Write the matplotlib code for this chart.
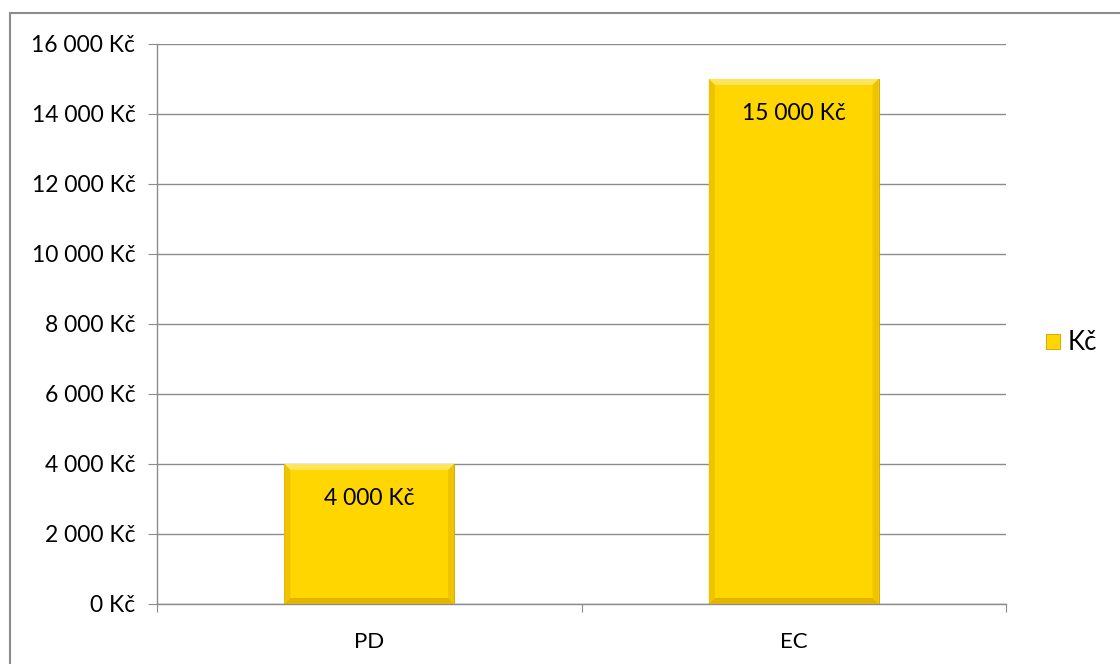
"""Bar chart of costs in Kč for PD and EC."""

import matplotlib
matplotlib.use("Agg")
import matplotlib.pyplot as plt
from matplotlib.patches import Polygon, Rectangle
from matplotlib.ticker import FuncFormatter, MultipleLocator


categories = ["PD", "EC"]
values = [4000, 15000]
series_name = "Kč"

FACE = "#FFD600"
LIGHT = "#FFE55E"
SIDE = "#EFC300"
BOTTOM = "#E2B400"
GRID = "#8C8C8C"

plt.rcParams["font.family"] = ["Lato", "DejaVu Sans"]


def money(value, _pos=None):
    text = f"{int(value):,}".replace(",", " ")
    return f"{text} Kč"


def add_bevel(ax, bar, size=6):
    """Paint a simple bevel frame on a bar, in pixel space."""
    x0, y0, x1, y1 = bar.get_window_extent().extents
    s = size
    pieces = [
        ([(x0, y1), (x1, y1), (x1 - s, y1 - s), (x0 + s, y1 - s)], LIGHT),
        ([(x0, y0), (x1, y0), (x1 - s, y0 + s), (x0 + s, y0 + s)], BOTTOM),
        ([(x0, y0), (x0, y1), (x0 + s, y1 - s), (x0 + s, y0 + s)], SIDE),
        ([(x1, y0), (x1, y1), (x1 - s, y1 - s), (x1 - s, y0 + s)], SIDE),
    ]
    for points, color in pieces:
        ax.add_artist(Polygon(points, closed=True, facecolor=color,
                              edgecolor="none", transform=None, zorder=3))


def main():
    fig = plt.figure(figsize=(11.2, 6.64), dpi=100)
    ax = fig.add_axes([0.1402, 0.0904, 0.758, 0.8434])

    fig.patches.append(Rectangle((10 / 1120, -0.1), 1.2, (664 - 13) / 664 + 0.1,
                                 transform=fig.transFigure, fill=False,
                                 edgecolor="#8C8C8C", linewidth=1.5))

    positions = range(len(categories))
    bars = ax.bar(positions, values, width=0.4, color=FACE, zorder=2,
                  edgecolor="#C9A000", linewidth=0.6, label=series_name)

    ax.set_xlim(-0.5, len(categories) - 0.5)
    ax.set_ylim(0, 16000)
    ax.yaxis.set_major_locator(MultipleLocator(2000))
    ax.yaxis.set_major_formatter(FuncFormatter(money))
    ax.grid(axis="y", color=GRID, linewidth=1.0, zorder=0)
    ax.set_axisbelow(True)

    ax.set_xticks([-0.5, 0.5, 1.5])
    ax.set_xticklabels(["", "", ""])
    ax.set_xticks(list(positions), categories, minor=True)
    ax.tick_params(axis="x", which="minor", length=0, labelsize=16, pad=20)
    ax.tick_params(axis="x", which="major", length=6, color=GRID)
    ax.tick_params(axis="y", length=6.5, color=GRID, labelsize=16.5, pad=9)

    for side in ("top", "right"):
        ax.spines[side].set_visible(False)
    for side in ("left", "bottom"):
        ax.spines[side].set_color(GRID)
        ax.spines[side].set_linewidth(1.0)

    for bar, value in zip(bars, values):
        add_bevel(ax, bar)
        ax.annotate(money(value), (bar.get_x() + bar.get_width() / 2, value),
                    xytext=(0, -25), textcoords="offset points",
                    ha="center", va="center", fontsize=16.5, zorder=4)

    fig.legend(handles=[bars[0]], labels=[series_name], loc="center left",
               bbox_to_anchor=(1046 / 1120, 1 - 343 / 664), frameon=False,
               fontsize=18.5, handlelength=0.55, handleheight=0.55,
               handletextpad=0.3, borderpad=0, borderaxespad=0)

    fig.savefig("out.png", dpi=100)
    plt.close(fig)


if __name__ == "__main__":
    main()
